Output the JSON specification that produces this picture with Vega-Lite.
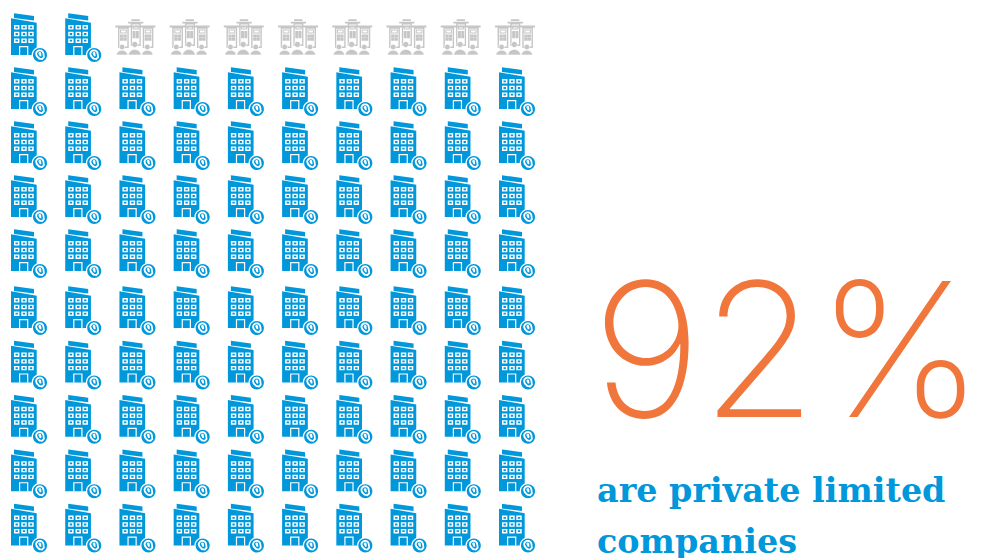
{
"$schema":"https://vega.github.io/schema/vega-lite/v6.json",
"width":984,"height":558,"padding":0,"autosize":"none","background":"#ffffff",
"config":{"view":{"stroke":null}},
"datasets":{
"cells":[
{"col":0,"row":0,"kind":"private"},{"col":1,"row":0,"kind":"private"},{"col":2,"row":0,"kind":"other"},{"col":3,"row":0,"kind":"other"},{"col":4,"row":0,"kind":"other"},{"col":5,"row":0,"kind":"other"},{"col":6,"row":0,"kind":"other"},{"col":7,"row":0,"kind":"other"},{"col":8,"row":0,"kind":"other"},{"col":9,"row":0,"kind":"other"},
{"col":0,"row":1,"kind":"private"},{"col":1,"row":1,"kind":"private"},{"col":2,"row":1,"kind":"private"},{"col":3,"row":1,"kind":"private"},{"col":4,"row":1,"kind":"private"},{"col":5,"row":1,"kind":"private"},{"col":6,"row":1,"kind":"private"},{"col":7,"row":1,"kind":"private"},{"col":8,"row":1,"kind":"private"},{"col":9,"row":1,"kind":"private"},
{"col":0,"row":2,"kind":"private"},{"col":1,"row":2,"kind":"private"},{"col":2,"row":2,"kind":"private"},{"col":3,"row":2,"kind":"private"},{"col":4,"row":2,"kind":"private"},{"col":5,"row":2,"kind":"private"},{"col":6,"row":2,"kind":"private"},{"col":7,"row":2,"kind":"private"},{"col":8,"row":2,"kind":"private"},{"col":9,"row":2,"kind":"private"},
{"col":0,"row":3,"kind":"private"},{"col":1,"row":3,"kind":"private"},{"col":2,"row":3,"kind":"private"},{"col":3,"row":3,"kind":"private"},{"col":4,"row":3,"kind":"private"},{"col":5,"row":3,"kind":"private"},{"col":6,"row":3,"kind":"private"},{"col":7,"row":3,"kind":"private"},{"col":8,"row":3,"kind":"private"},{"col":9,"row":3,"kind":"private"},
{"col":0,"row":4,"kind":"private"},{"col":1,"row":4,"kind":"private"},{"col":2,"row":4,"kind":"private"},{"col":3,"row":4,"kind":"private"},{"col":4,"row":4,"kind":"private"},{"col":5,"row":4,"kind":"private"},{"col":6,"row":4,"kind":"private"},{"col":7,"row":4,"kind":"private"},{"col":8,"row":4,"kind":"private"},{"col":9,"row":4,"kind":"private"},
{"col":0,"row":5,"kind":"private"},{"col":1,"row":5,"kind":"private"},{"col":2,"row":5,"kind":"private"},{"col":3,"row":5,"kind":"private"},{"col":4,"row":5,"kind":"private"},{"col":5,"row":5,"kind":"private"},{"col":6,"row":5,"kind":"private"},{"col":7,"row":5,"kind":"private"},{"col":8,"row":5,"kind":"private"},{"col":9,"row":5,"kind":"private"},
{"col":0,"row":6,"kind":"private"},{"col":1,"row":6,"kind":"private"},{"col":2,"row":6,"kind":"private"},{"col":3,"row":6,"kind":"private"},{"col":4,"row":6,"kind":"private"},{"col":5,"row":6,"kind":"private"},{"col":6,"row":6,"kind":"private"},{"col":7,"row":6,"kind":"private"},{"col":8,"row":6,"kind":"private"},{"col":9,"row":6,"kind":"private"},
{"col":0,"row":7,"kind":"private"},{"col":1,"row":7,"kind":"private"},{"col":2,"row":7,"kind":"private"},{"col":3,"row":7,"kind":"private"},{"col":4,"row":7,"kind":"private"},{"col":5,"row":7,"kind":"private"},{"col":6,"row":7,"kind":"private"},{"col":7,"row":7,"kind":"private"},{"col":8,"row":7,"kind":"private"},{"col":9,"row":7,"kind":"private"},
{"col":0,"row":8,"kind":"private"},{"col":1,"row":8,"kind":"private"},{"col":2,"row":8,"kind":"private"},{"col":3,"row":8,"kind":"private"},{"col":4,"row":8,"kind":"private"},{"col":5,"row":8,"kind":"private"},{"col":6,"row":8,"kind":"private"},{"col":7,"row":8,"kind":"private"},{"col":8,"row":8,"kind":"private"},{"col":9,"row":8,"kind":"private"},
{"col":0,"row":9,"kind":"private"},{"col":1,"row":9,"kind":"private"},{"col":2,"row":9,"kind":"private"},{"col":3,"row":9,"kind":"private"},{"col":4,"row":9,"kind":"private"},{"col":5,"row":9,"kind":"private"},{"col":6,"row":9,"kind":"private"},{"col":7,"row":9,"kind":"private"},{"col":8,"row":9,"kind":"private"},{"col":9,"row":9,"kind":"private"}
],
"headline":[{"col":10.48,"row":7.0,"label":"92%"}],
"caption":[{"col":10.568,"row":8.566,"label":"are private limited"},{"col":10.568,"row":9.504,"label":"companies"}]
},
"data":{"name":"cells"},
"encoding":{
"x":{"field":"col","type":"quantitative","axis":null,"scale":{"domain":[0,9],"range":[24,512],"zero":false,"nice":false}},
"y":{"field":"row","type":"quantitative","axis":null,"scale":{"domain":[0,4,5,9],"range":[35,251,308,525.5],"zero":false,"nice":false}}
},
"layer":[
{"transform":[{"filter":"datum.kind === 'private'"}],
 "mark":{"type":"point","filled":true,"opacity":1,"size":1600,"color":"#0098DB",
 "shape":"M -0.65 -0.835 L 0.635 -0.615 L 0.635 1 L -0.65 1 Z M -0.5 -1.085 L 0.5 -0.95 L 0.5 -0.725 L -0.5 -0.85 Z"}},
{"transform":[{"filter":"datum.kind === 'private'"}],
 "mark":{"type":"point","filled":true,"opacity":1,"size":1600,"color":"#ffffff",
 "shape":"M -0.5 -0.495 h 0.27 v 0.22 h -0.27 Z M -0.425 -0.43 v 0.09 h 0.12 v -0.09 Z M -0.135 -0.495 h 0.27 v 0.22 h -0.27 Z M -0.06 -0.43 v 0.09 h 0.12 v -0.09 Z M 0.215 -0.495 h 0.27 v 0.22 h -0.27 Z M 0.29 -0.43 v 0.09 h 0.12 v -0.09 Z M -0.5 -0.16 h 0.27 v 0.22 h -0.27 Z M -0.425 -0.095 v 0.09 h 0.12 v -0.09 Z M -0.135 -0.16 h 0.27 v 0.22 h -0.27 Z M -0.06 -0.095 v 0.09 h 0.12 v -0.09 Z M 0.215 -0.16 h 0.27 v 0.22 h -0.27 Z M 0.29 -0.095 v 0.09 h 0.12 v -0.09 Z M -0.5 0.175 h 0.27 v 0.22 h -0.27 Z M -0.425 0.24 v 0.09 h 0.12 v -0.09 Z M -0.135 0.175 h 0.27 v 0.22 h -0.27 Z M -0.06 0.24 v 0.09 h 0.12 v -0.09 Z M 0.215 0.175 h 0.27 v 0.22 h -0.27 Z M 0.29 0.24 v 0.09 h 0.12 v -0.09 Z M -0.25 0.55 h 0.465 v 0.45 h -0.465 Z M -0.19 0.61 v 0.39 h 0.345 v -0.39 Z M 0.385 1 a 0.415 0.415 0 1 1 0.83 0 a 0.415 0.415 0 1 1 -0.83 0 Z"}},
{"transform":[{"filter":"datum.kind === 'private'"}],
 "mark":{"type":"point","filled":true,"opacity":1,"size":1600,"color":"#0098DB",
 "shape":"M 0.45 1 a 0.35 0.35 0 1 1 0.7 0 a 0.35 0.35 0 1 1 -0.7 0 Z"}},
{"transform":[{"filter":"datum.kind === 'private'"}],
 "mark":{"type":"point","filled":true,"opacity":1,"size":1600,"color":"#ffffff",
 "shape":"M 0.56 0.95 a 0.23 0.23 0 1 1 0.46 0 L 1.04 1.13 L 0.92 1.25 L 0.74 1.22 L 0.6 1.08 Z M 0.65 0.95 L 0.7 1.05 L 0.79 1.14 L 0.88 1.16 L 0.95 1.09 L 0.93 0.95 a 0.14 0.14 0 1 0 -0.28 0 Z M 0.72 0.92 a 0.07 0.07 0 1 1 0.14 0 L 0.87 1.06 L 0.79 1.06 Z"}},
{"transform":[{"filter":"datum.kind === 'other'"}],
 "mark":{"type":"point","filled":true,"opacity":1,"size":1600,"color":"#C6C6C6",
 "shape":"M -0.055 -0.79 h 0.42 v 0.09 h -0.42 Z M -0.22 -0.66 h 0.765 v 0.09 h -0.765 Z M -0.855 -0.47 h 2 v 0.1 h -2 Z M -0.72 -0.385 h 0.535 v 1.035 h -0.535 Z M -0.65 -0.31 v 0.89 h 0.395 v -0.89 Z M -0.62 -0.27 h 0.335 v 0.19 h -0.335 Z M -0.57 -0.22 v 0.09 h 0.235 v -0.09 Z M -0.62 -0.03 h 0.16 v 0.15 h -0.16 Z M -0.445 -0.03 h 0.16 v 0.15 h -0.16 Z M -0.62 0.14 h 0.16 v 0.15 h -0.16 Z M -0.445 0.14 h 0.16 v 0.15 h -0.16 Z M 0.515 -0.385 h 0.53 v 1.035 h -0.53 Z M 0.585 -0.31 v 0.89 h 0.39 v -0.89 Z M 0.615 -0.27 h 0.33 v 0.19 h -0.33 Z M 0.665 -0.22 v 0.09 h 0.23 v -0.09 Z M 0.615 -0.03 h 0.16 v 0.15 h -0.16 Z M 0.785 -0.03 h 0.16 v 0.15 h -0.16 Z M 0.615 0.14 h 0.16 v 0.15 h -0.16 Z M 0.785 0.14 h 0.16 v 0.15 h -0.16 Z M -0.085 -0.585 h 0.5 v 1.135 h -0.5 Z M -0.02 -0.52 v 1 h 0.37 v -1 Z M 0.01 -0.47 h 0.31 v 0.19 h -0.31 Z M 0.06 -0.42 v 0.09 h 0.21 v -0.09 Z M 0.01 -0.2 h 0.145 v 0.36 h -0.145 Z M 0.175 -0.2 h 0.145 v 0.36 h -0.145 Z"}},
{"transform":[{"filter":"datum.kind === 'other'"}],
 "mark":{"type":"point","filled":true,"opacity":1,"size":1600,"color":"#C6C6C6","stroke":"#ffffff","strokeWidth":0.6,
 "shape":"M -0.8 1 a 0.28 0.24 0 0 1 0.56 0 Z M -0.66 0.6 a 0.14 0.14 0 1 1 0.28 0 a 0.14 0.14 0 1 1 -0.28 0 Z M -0.2 1 a 0.315 0.28 0 0 1 0.63 0 Z M -0.035 0.47 a 0.15 0.15 0 1 1 0.3 0 a 0.15 0.15 0 1 1 -0.3 0 Z M 0.465 1 a 0.28 0.24 0 0 1 0.56 0 Z M 0.605 0.6 a 0.14 0.14 0 1 1 0.28 0 a 0.14 0.14 0 1 1 -0.28 0 Z"}},
{"data":{"name":"headline"},
 "mark":{"type":"text","align":"left","baseline":"alphabetic","font":"Inter","fontWeight":200,"fontSize":187,"color":"#F0763B"},
 "encoding":{"text":{"field":"label","type":"nominal"}}},
{"data":{"name":"caption"},
 "mark":{"type":"text","align":"left","baseline":"alphabetic","font":"DejaVu Serif","fontWeight":"bold","fontSize":33.4,"color":"#0098DB"},
 "encoding":{"text":{"field":"label","type":"nominal"}}}
]
}
